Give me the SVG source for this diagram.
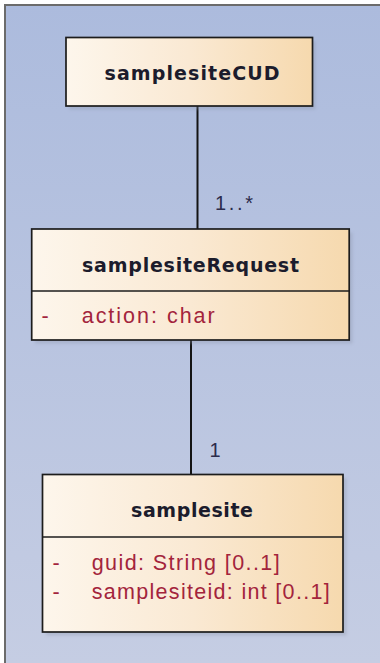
<svg xmlns="http://www.w3.org/2000/svg" width="380" height="663" viewBox="0 0 380 663">
<defs>
<linearGradient id="bg" x1="0" y1="0" x2="0" y2="1">
<stop offset="0" stop-color="#acbbdd"/>
<stop offset="1" stop-color="#c5cde3"/>
</linearGradient>
<linearGradient id="nodefill" x1="0" y1="0" x2="1" y2="0">
<stop offset="0" stop-color="#fdf6ec"/>
<stop offset="0.5" stop-color="#fae9d3"/>
<stop offset="1" stop-color="#f6d9ae"/>
</linearGradient>
<filter id="shadow" x="-10%" y="-10%" width="130%" height="130%">
<feGaussianBlur stdDeviation="1.5"/>
</filter>
</defs>
<style>
.frame{fill:url(#bg);stroke:none}
.frameline{stroke:#6b6b6b;stroke-width:2;fill:none}
.box{fill:url(#nodefill);stroke:#1c1c1c;stroke-width:1.7}
.shadow{fill:#8a93a8;opacity:0.35;filter:url(#shadow)}
.sep{stroke:#1c1c1c;stroke-width:1.7}
.title{font-family:"DejaVu Sans",sans-serif;font-weight:bold;font-size:19px;fill:#1c1c2c;text-anchor:middle}
.attr{font-family:"Liberation Sans",Arial,sans-serif;font-size:21.5px;fill:#a3243c}
.mult{font-family:"Liberation Sans",Arial,sans-serif;font-size:20px;fill:#2c2c4c}
.conn{stroke:#141414;stroke-width:2;fill:none}
</style>
<rect class="frame" x="5" y="5" width="375" height="658"/>
<path class="frameline" d="M5,663 V5 H380"/>
<g id="connectors">
<line class="conn" x1="197.5" y1="106" x2="197.5" y2="229"/>
<text class="mult" x="215" y="210" textLength="38" lengthAdjust="spacing">1..*</text>
<line class="conn" x1="191" y1="340" x2="191" y2="474.5"/>
<text class="mult" x="209.5" y="457">1</text>
</g>
<g id="samplesiteCUD">
<rect class="shadow" x="69" y="41" width="246.5" height="68.5"/>
<rect class="box" x="66" y="37.5" width="246.5" height="68.5"/>
<text class="title" x="192" y="80" textLength="175" lengthAdjust="spacing">samplesiteCUD</text>
</g>
<g id="samplesiteRequest">
<rect class="shadow" x="35" y="232.5" width="317.5" height="111"/>
<rect class="box" x="31.7" y="229" width="317.5" height="111"/>
<line class="sep" x1="31.7" y1="291" x2="349.2" y2="291"/>
<text class="title" x="190.5" y="271.5" textLength="217" lengthAdjust="spacing">samplesiteRequest</text>
<text class="attr" x="41.5" y="322.5">-</text>
<text class="attr" x="81.7" y="322.5" textLength="133" lengthAdjust="spacing">action: char</text>
</g>
<g id="samplesite">
<rect class="shadow" x="46" y="478" width="300.5" height="157.5"/>
<rect class="box" x="42.5" y="474.5" width="300.5" height="157.5"/>
<line class="sep" x1="42.5" y1="537" x2="343" y2="537"/>
<text class="title" x="192" y="517" textLength="122" lengthAdjust="spacing">samplesite</text>
<text class="attr" x="52.5" y="570">-</text>
<text class="attr" x="91.7" y="570" textLength="188" lengthAdjust="spacing">guid: String [0..1]</text>
<text class="attr" x="52.5" y="598.5">-</text>
<text class="attr" x="91.7" y="598.5" textLength="238" lengthAdjust="spacing">samplesiteid: int [0..1]</text>
</g>
</svg>
